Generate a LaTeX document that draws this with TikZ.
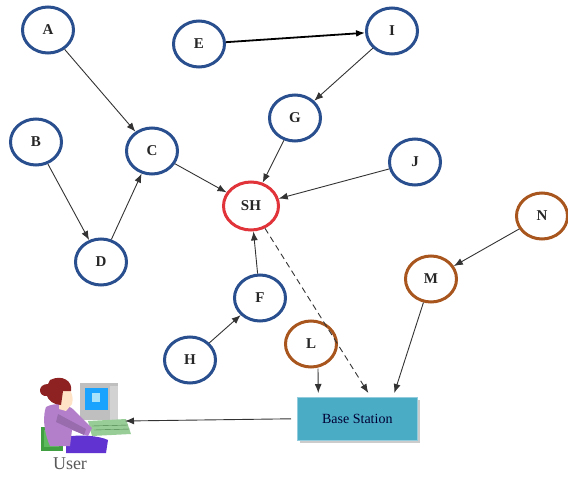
\documentclass[tikz,border=0pt]{standalone}
\usepackage{fontspec}
\setmainfont{Liberation Serif}
\usetikzlibrary{shapes.geometric,arrows.meta,calc}
\definecolor{nodeblue}{HTML}{2A4F8F}
\definecolor{nodebrown}{HTML}{A8561E}
\definecolor{nodered}{HTML}{E0343A}
\definecolor{bsfill}{HTML}{4BACC6}
\definecolor{edgegray}{HTML}{333333}
\definecolor{shirt}{HTML}{B37FCB}
\definecolor{hair}{HTML}{8E2222}
\tikzset{
  sensor/.style={ellipse, draw=#1, line width=3pt, minimum width=51pt,
    minimum height=46pt, inner sep=0pt, text=black!85,
    font=\bfseries\fontsize{15}{15}\selectfont},
  sensor/.default=nodeblue,
  link/.style={-{Latex[length=9pt,width=7pt]}, draw=edgegray, line width=0.9pt},
  heavylink/.style={link, line width=1.8pt, draw=black},
  dashedlink/.style={link, dashed, dash pattern=on 6pt off 4pt},
}
\begin{document}
\begin{tikzpicture}[x=1pt,y=-1pt]
\useasboundingbox (0,0) rectangle (568,477);

% sensor nodes
\node[sensor] (A) at (48,30) {A};
\node[sensor] (B) at (36,142) {B};
\node[sensor] (C) at (152,151) {C};
\node[sensor] (D) at (101,262) {D};
\node[sensor] (E) at (199,44) {E};
\node[sensor] (I) at (392,31) {I};
\node[sensor] (G) at (295,118) {G};
\node[sensor] (J) at (415,162) {J};
\node[sensor] (F) at (260,298) {F};
\node[sensor] (H) at (190,360) {H};
\node[sensor=nodered, minimum width=55pt, minimum height=48pt] (SH) at (251,206) {SH};
\node[sensor=nodebrown] (N) at (542,216) {N};
\node[sensor=nodebrown] (M) at (431,279) {M};
\node[sensor=nodebrown] (L) at (311,344) {L};

% base station with its drop shadow
\fill[gray!40] (300,400) rectangle (420,443);
\node[draw=bsfill!60!white, line width=0.6pt, fill=bsfill, minimum width=120pt,
  minimum height=43pt, inner sep=0pt, anchor=north west,
  text=black!80!blue, font=\fontsize{14}{14}\selectfont] (BS) at (297,397) {Base Station};

% user at a workstation
\begin{scope}
  % chair
  \fill[green!50!black!75] (41,427) rectangle (63,451);
  \fill[green!40!gray!90] (44,430) rectangle (59,447);
  % monitor
  \fill[gray!50] (80,383) rectangle (118,420);
  \fill[gray!35] (110,386) rectangle (118,420);
  \fill[blue!40!cyan!90] (85,388) rectangle (108,410);
  \fill[cyan!35] (92,393) rectangle (100,402);
  % keyboard
  \fill[green!35!gray!60] (88,421) -- (126,419) -- (131,434) -- (92,436) -- cycle;
  \draw[green!30!black!70, line width=0.4pt] (92,426) -- (128,425) (94,430) -- (130,429);
  % legs and seat
  \fill[blue!55!violet!80] (66,437) .. controls (80,434) and (100,436) .. (108,440)
     -- (106,453) -- (66,453) -- cycle;
  % body
  \fill[shirt] (46,407) .. controls (55,402) and (68,404) .. (74,410)
     -- (92,428) -- (88,436) -- (72,430) -- (70,446) -- (50,446)
     .. controls (43,430) and (43,415) .. (46,407) -- cycle;
  % arm
  \fill[shirt!85!black] (58,414) -- (86,429) -- (84,435) -- (56,422) -- cycle;
  % face and neck
  \fill[orange!22] (60,387) .. controls (71,385) and (74,396) .. (72,404)
     -- (66,411) -- (59,409) -- cycle;
  % hair
  \fill[hair] (50,380) .. controls (62,374) and (73,381) .. (71,391)
     -- (63,391) -- (61,405) .. controls (54,405) and (48,400) .. (47,396)
     .. controls (38,397) and (37,384) .. (48,384) -- cycle;
\end{scope}
\coordinate (userdesk) at (125,421);
\node[font=\fontsize{18}{18}\selectfont, text=black!65, anchor=center] (userlbl) at (70,464) {User};

% links between sensors
\draw[link] (A) -- (C);
\draw[link] (B) -- (D);
\draw[link] (D) -- (C);
\draw[link] (C) -- (SH);
\draw[heavylink] (E) -- (I);
\draw[link] (I) -- (G);
\draw[link] (G) -- (SH);
\draw[link] (J) -- (SH);
\draw[link] (F) -- (SH);
\draw[link] (H) -- (F);
\draw[link] (N) -- (M);

% links to the base station
\draw[link] (L.south -| 318,0) -- ($(BS.north)+(-39,-4)$);
\draw[dashedlink] (SH) -- ($(BS.north)+(11,-4)$);
\draw[link] (M) -- ($(BS.north)+(37,-4)$);
\draw[link] ($(BS.west)+(-6,0)$) -- (userdesk);
\end{tikzpicture}
\end{document}
